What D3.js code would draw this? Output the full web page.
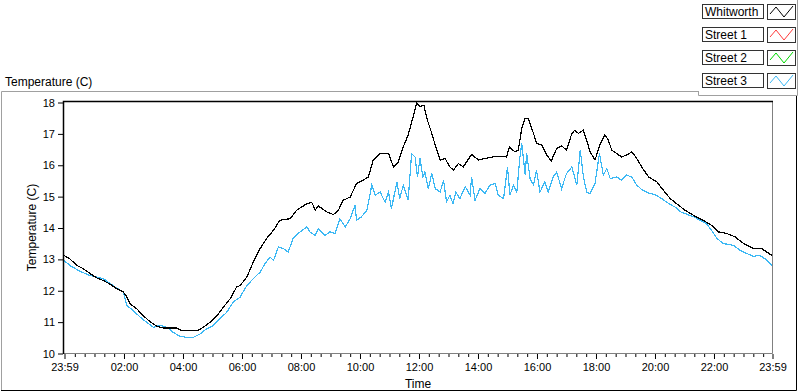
<!DOCTYPE html>
<html>
<head>
<meta charset="utf-8">
<script src="https://cdn.jsdelivr.net/npm/d3@7"></script>
<style>
  body { margin: 0; background: #fff; }
  svg { display: block; font-family: "Liberation Sans", Arial, sans-serif; }
  .tick text { font-size: 11px; fill: #000; }
</style>
</head>
<body>
<script>
// minutes after 23:59, temperature in C
var whitworth = [
  [0,13.11],[12,13.0],[26,12.79],[39,12.69],[53,12.53],[67,12.39],[80,12.31],[94,12.19],[107,12.05],[121,11.94],
  [128,11.78],[134,11.57],[148,11.41],[161,11.19],[175,11.0],[189,10.85],[202,10.80],[229,10.80],[239,10.72],[273,10.72],
  [283,10.82],[297,10.98],[311,11.19],[324,11.46],[338,11.73],[351,12.10],[358,12.15],[372,12.42],[385,12.90],[399,13.33],
  [412,13.65],[426,13.91],[439,14.23],[460,14.28],[473,14.55],[494,14.76],[504,14.80],[511,14.55],[517,14.69],[534,14.50],
  [548,14.41],[558,14.55],[568,14.87],[582,14.97],[595,15.40],[609,15.51],[619,15.61],[629,16.15],[643,16.36],[660,16.36],
  [670,15.93],[680,16.09],[690,16.57],[700,16.95],[711,17.58],[717,17.96],[724,17.85],[732,17.9],[738,17.48],[748,17.0],
  [755,16.63],[765,16.15],[775,16.2],[785,15.93],[792,15.83],[802,16.04],[812,15.93],[829,16.33],[843,16.15],[856,16.2],
  [873,16.25],[890,16.27],[900,16.25],[906,16.57],[917,16.41],[924,16.46],[931,17.16],[938,17.48],[944,17.48],[955,17.0],
  [961,16.68],[972,16.63],[982,16.31],[991,16.12],[1002,16.52],[1012,16.6],[1022,16.47],[1033,17.0],[1039,17.1],[1046,17.0],
  [1056,17.1],[1063,16.79],[1070,16.41],[1080,16.15],[1090,16.63],[1100,16.95],[1107,16.79],[1114,16.47],[1124,16.36],[1134,16.25],
  [1144,16.31],[1155,16.41],[1165,16.20],[1175,15.93],[1189,15.61],[1206,15.45],[1219,15.19],[1233,14.92],[1250,14.71],[1263,14.55],
  [1280,14.39],[1300,14.23],[1317,14.07],[1331,13.86],[1348,13.81],[1365,13.70],[1382,13.49],[1402,13.33],[1419,13.33],[1429,13.22],
  [1440,13.11]
];
var street1 = [];
var street2 = [];
var street3 = [
  [0,12.95],[12,12.79],[26,12.66],[39,12.56],[53,12.47],[67,12.42],[80,12.37],[94,12.21],[107,12.07],[121,11.94],
  [128,11.51],[141,11.35],[155,11.14],[168,10.98],[182,10.82],[195,10.88],[209,10.82],[222,10.66],[236,10.53],[250,10.50],
  [263,10.50],[277,10.61],[290,10.77],[304,10.88],[317,11.09],[331,11.30],[344,11.62],[358,11.78],[372,12.15],[385,12.37],
  [399,12.58],[409,12.85],[419,13.06],[426,12.95],[436,13.38],[446,13.33],[456,13.22],[466,13.65],[480,13.86],[494,14.02],
  [500,13.86],[511,13.75],[517,13.96],[531,13.75],[541,13.86],[551,13.81],[561,14.28],[572,14.02],[582,14.28],[592,14.71],
  [595,14.23],[605,14.34],[616,14.55],[626,15.35],[633,15.03],[643,15.13],[653,14.81],[660,15.13],[666,14.60],[677,15.45],
  [683,14.92],[690,15.35],[700,14.87],[707,16.36],[714,16.25],[719,15.61],[724,16.2],[730,15.61],[734,15.77],[741,15.24],
  [748,15.72],[755,15.24],[765,15.13],[772,15.51],[778,14.81],[785,15.03],[791,14.76],[797,15.13],[805,14.92],[816,15.3],
  [826,15.03],[829,15.61],[836,14.87],[846,15.24],[856,15.08],[866,15.35],[877,15.40],[883,15.03],[894,14.92],[902,15.93],
  [907,15.03],[914,15.35],[921,15.13],[927,16.2],[931,16.68],[938,15.67],[941,16.36],[948,15.56],[955,15.35],[961,15.83],
  [968,15.13],[978,15.45],[985,15.13],[995,15.61],[1002,15.77],[1012,15.24],[1022,15.72],[1033,15.93],[1043,15.35],[1050,16.47],
  [1056,15.67],[1063,15.13],[1070,15.08],[1080,15.40],[1089,16.36],[1097,15.67],[1104,15.88],[1111,15.56],[1124,15.61],[1134,15.51],
  [1144,15.67],[1155,15.61],[1165,15.35],[1175,15.21],[1189,15.10],[1202,15.05],[1216,14.92],[1230,14.76],[1243,14.65],[1254,14.50],
  [1267,14.42],[1281,14.34],[1294,14.23],[1307,14.12],[1317,13.91],[1328,13.65],[1341,13.49],[1362,13.43],[1375,13.27],[1389,13.17],
  [1402,13.08],[1415,13.11],[1426,13.0],[1436,12.85],[1440,12.79]
];

var seriesNames = ["Whitworth", "Street 1", "Street 2", "Street 3"];
var seriesColors = ["#000000", "#ff3b3b", "#00d800", "#3cb8f4"];
var seriesData = [whitworth, street1, street2, street3];

var xTickMinutes = [0, 121, 241, 361, 481, 601, 721, 841, 961, 1081, 1201, 1321, 1440];
var xTickLabels = ["23:59", "02:00", "04:00", "06:00", "08:00", "10:00", "12:00", "14:00", "16:00", "18:00", "20:00", "22:00", "23:59"];
var yTicks = [10, 11, 12, 13, 14, 15, 16, 17, 18];

var width = 800, height = 392;
var plot = {left: 64, right: 772, top: 102, bottom: 353};

var svg = d3.select("body").append("svg")
    .attr("width", width)
    .attr("height", height);

var x = d3.scaleLinear().domain([0, 1440]).range([plot.left, plot.right]);
var y = d3.scaleLinear().domain([10, 18]).range([plot.bottom, plot.top]);

// panel frame
svg.append("path").attr("d", "M1.5,390 V91.5 H698").attr("fill", "none").attr("stroke", "#a0a0a0");
svg.append("path").attr("d", "M1,390.5 H796.5 V95").attr("fill", "none").attr("stroke", "#000");
svg.append("path").attr("d", "M698.5,91 V95.5 H797.5 V0").attr("fill", "none").attr("stroke", "#a0a0a0");

// titles
svg.append("text").attr("x", 5).attr("y", 86)
    .style("font-size", "12px").text("Temperature (C)");
svg.append("text").attr("transform", "translate(36," + ((plot.top + plot.bottom) / 2) + ") rotate(-90)")
    .attr("text-anchor", "middle").style("font-size", "12px").text("Temperature (C)");
svg.append("text").attr("x", (plot.left + plot.right) / 2).attr("y", 388)
    .attr("text-anchor", "middle").style("font-size", "12px").text("Time");

// plot background + lines
svg.append("rect").attr("x", plot.left).attr("y", plot.top)
    .attr("width", plot.right - plot.left).attr("height", plot.bottom - plot.top).attr("fill", "#fff");

var line = d3.line()
    .x(function(d) { return x(d[0]); })
    .y(function(d) { return y(d[1]); });

svg.append("g").selectAll("path")
    .data(seriesData.map(function(d, i) { return {values: d, color: seriesColors[i]}; }).reverse())
  .enter().append("path")
    .attr("d", function(d) { return d.values.length ? line(d.values) : null; })
    .attr("fill", "none")
    .attr("stroke", function(d) { return d.color; })
    .attr("stroke-width", 1.2)
    .style("shape-rendering", "crispEdges");

// plot border
svg.append("path").attr("d", "M" + (plot.right + 0.5) + "," + plot.top + " V" + (plot.bottom + 0.5) + " H" + plot.left)
    .attr("fill", "none").attr("stroke", "#808080");
svg.append("path").attr("d", "M" + (plot.left - 0.5) + "," + (plot.bottom + 1) + " V" + (plot.top - 0.5) + " H" + (plot.right + 1))
    .attr("fill", "none").attr("stroke", "#000").attr("stroke-width", 1.5);

// axes
var yAxis = svg.append("g").attr("transform", "translate(" + (plot.left - 1) + ",0.5)")
    .call(d3.axisLeft(y).tickValues(yTicks).tickSize(5).tickPadding(3).tickFormat(d3.format("d")));
yAxis.select(".domain").remove();

var minor = [];
for (var m = 21; m < 1440; m += 20) minor.push(m);
var xMinor = svg.append("g").attr("transform", "translate(0.5," + (plot.bottom + 1) + ")")
    .call(d3.axisBottom(x).tickValues(minor).tickSize(3).tickFormat(""));
xMinor.select(".domain").remove();

var xAxis = svg.append("g").attr("transform", "translate(0.5," + (plot.bottom + 1) + ")")
    .call(d3.axisBottom(x).tickValues(xTickMinutes).tickSize(5).tickPadding(4)
      .tickFormat(function(d, i) { return xTickLabels[i]; }));
xAxis.select(".domain").remove();

// legend
var legend = svg.append("g").selectAll("g")
    .data(seriesNames)
  .enter().append("g")
    .attr("transform", function(d, i) { return "translate(0," + (i * 23) + ")"; });

legend.append("rect").attr("x", 702.5).attr("y", 4.5).attr("width", 61).attr("height", 14)
    .attr("fill", "#fff").attr("stroke", "#333");
legend.append("text").attr("x", 705).attr("y", 16).style("font-size", "12px")
    .text(function(d) { return d; });
legend.append("rect").attr("x", 767.5).attr("y", 4.5).attr("width", 28).attr("height", 15)
    .attr("fill", "#fff").attr("stroke", "#333");
legend.append("path")
    .attr("d", "M770,14 L776,7 L784,17 L793,6")
    .attr("fill", "none")
    .attr("stroke", function(d, i) { return seriesColors[i]; });
</script>
</body>
</html>
